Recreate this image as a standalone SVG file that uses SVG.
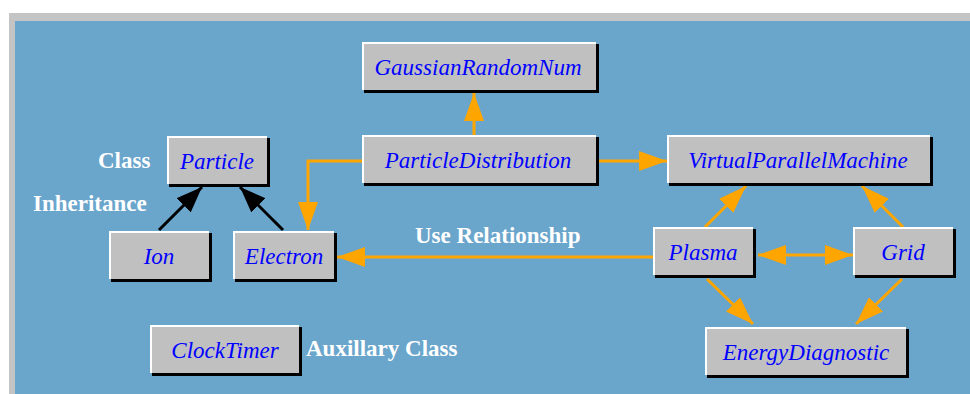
<svg xmlns="http://www.w3.org/2000/svg" width="970" height="394" viewBox="0 0 970 394">
<style>
.sh{fill:#000}
.hl{fill:#fff}
.bd{fill:#c0c0c0}
.nt{font-family:"Liberation Serif",serif;font-style:italic;font-size:23px;fill:#0000ff;text-anchor:middle}
.lb{font-family:"Liberation Serif",serif;font-weight:bold;font-size:23px;fill:#fff}
.use{stroke:#ffa500;stroke-width:3;fill:none}
.inh{stroke:#000;stroke-width:3;fill:none}
</style>
<defs>
<marker id="ao" viewBox="0 0 28 20" refX="28" refY="10" markerWidth="28" markerHeight="20" markerUnits="userSpaceOnUse" orient="auto-start-reverse"><path d="M0,0 L28,10 L0,20 z" fill="#ffa500"/></marker>
<marker id="ab" viewBox="0 0 26 20" refX="26" refY="10" markerWidth="26" markerHeight="20" markerUnits="userSpaceOnUse" orient="auto"><path d="M0,0 L26,10 L0,20 z" fill="#000"/></marker>
</defs>
<rect x="0" y="0" width="970" height="394" fill="#fff"/>
<rect x="9" y="13" width="961" height="381" fill="#c4c4c4"/>
<rect x="15" y="21" width="955" height="373" fill="#6aa5cc"/>

<g id="connectors">
<path class="inh" d="M159,230 L202,187" marker-end="url(#ab)"/>
<path class="inh" d="M283,230 L240,187" marker-end="url(#ab)"/>
<path class="use" d="M474,135 L474,93" marker-end="url(#ao)"/>
<path class="use" d="M362,161 L308,161 L308,230" marker-end="url(#ao)"/>
<path class="use" d="M599,161 L667,161" marker-end="url(#ao)"/>
<path class="use" d="M653,257 L337,257" marker-end="url(#ao)"/>
<path class="use" d="M705,227 L746,186" marker-end="url(#ao)"/>
<path class="use" d="M903,227 L862,186" marker-end="url(#ao)"/>
<path class="use" d="M758,255 L853,255" marker-start="url(#ao)" marker-end="url(#ao)"/>
<path class="use" d="M707,279 L753,324" marker-end="url(#ao)"/>
<path class="use" d="M902,279 L856,324" marker-end="url(#ao)"/>
</g>

<g id="Particle"><rect class="sh" x="169" y="138" width="101" height="49"/><rect class="hl" x="167" y="136" width="100" height="48"/><rect class="bd" x="169" y="138" width="98" height="46"/><text class="nt" x="217" y="169">Particle</text></g>
<g id="GaussianRandomNum"><rect class="sh" x="364" y="44" width="235" height="49"/><rect class="hl" x="362" y="42" width="234" height="48"/><rect class="bd" x="364" y="44" width="232" height="46"/><text class="nt" x="478" y="75">GaussianRandomNum</text></g>
<g id="ParticleDistribution"><rect class="sh" x="364" y="137" width="235" height="49"/><rect class="hl" x="362" y="135" width="234" height="48"/><rect class="bd" x="364" y="137" width="232" height="46"/><text class="nt" x="478" y="168">ParticleDistribution</text></g>
<g id="VirtualParallelMachine"><rect class="sh" x="669" y="137" width="264" height="49"/><rect class="hl" x="667" y="135" width="263" height="48"/><rect class="bd" x="669" y="137" width="261" height="46"/><text class="nt" x="798" y="168">VirtualParallelMachine</text></g>
<g id="Plasma"><rect class="sh" x="655" y="229" width="101" height="49"/><rect class="hl" x="653" y="227" width="100" height="48"/><rect class="bd" x="655" y="229" width="98" height="46"/><text class="nt" x="703" y="260">Plasma</text></g>
<g id="Grid"><rect class="sh" x="855" y="229" width="101" height="49"/><rect class="hl" x="853" y="227" width="100" height="48"/><rect class="bd" x="855" y="229" width="98" height="46"/><text class="nt" x="903" y="260">Grid</text></g>
<g id="EnergyDiagnostic"><rect class="sh" x="707" y="329" width="202" height="49"/><rect class="hl" x="705" y="327" width="201" height="48"/><rect class="bd" x="707" y="329" width="199" height="46"/><text class="nt" x="806" y="360">EnergyDiagnostic</text></g>
<g id="Ion"><rect class="sh" x="111" y="233" width="101" height="49"/><rect class="hl" x="109" y="231" width="100" height="48"/><rect class="bd" x="111" y="233" width="98" height="46"/><text class="nt" x="159" y="264">Ion</text></g>
<g id="Electron"><rect class="sh" x="235" y="233" width="102" height="49"/><rect class="hl" x="233" y="231" width="101" height="48"/><rect class="bd" x="235" y="233" width="99" height="46"/><text class="nt" x="284" y="264">Electron</text></g>
<g id="ClockTimer"><rect class="sh" x="152" y="327" width="150" height="49"/><rect class="hl" x="150" y="325" width="149" height="48"/><rect class="bd" x="152" y="327" width="147" height="46"/><text class="nt" x="225" y="358">ClockTimer</text></g>

<g id="labels">
<text class="lb" x="98" y="168">Class</text>
<text class="lb" x="33" y="211">Inheritance</text>
<text class="lb" x="415" y="243">Use Relationship</text>
<text class="lb" x="306" y="356">Auxillary Class</text>
</g>
</svg>
